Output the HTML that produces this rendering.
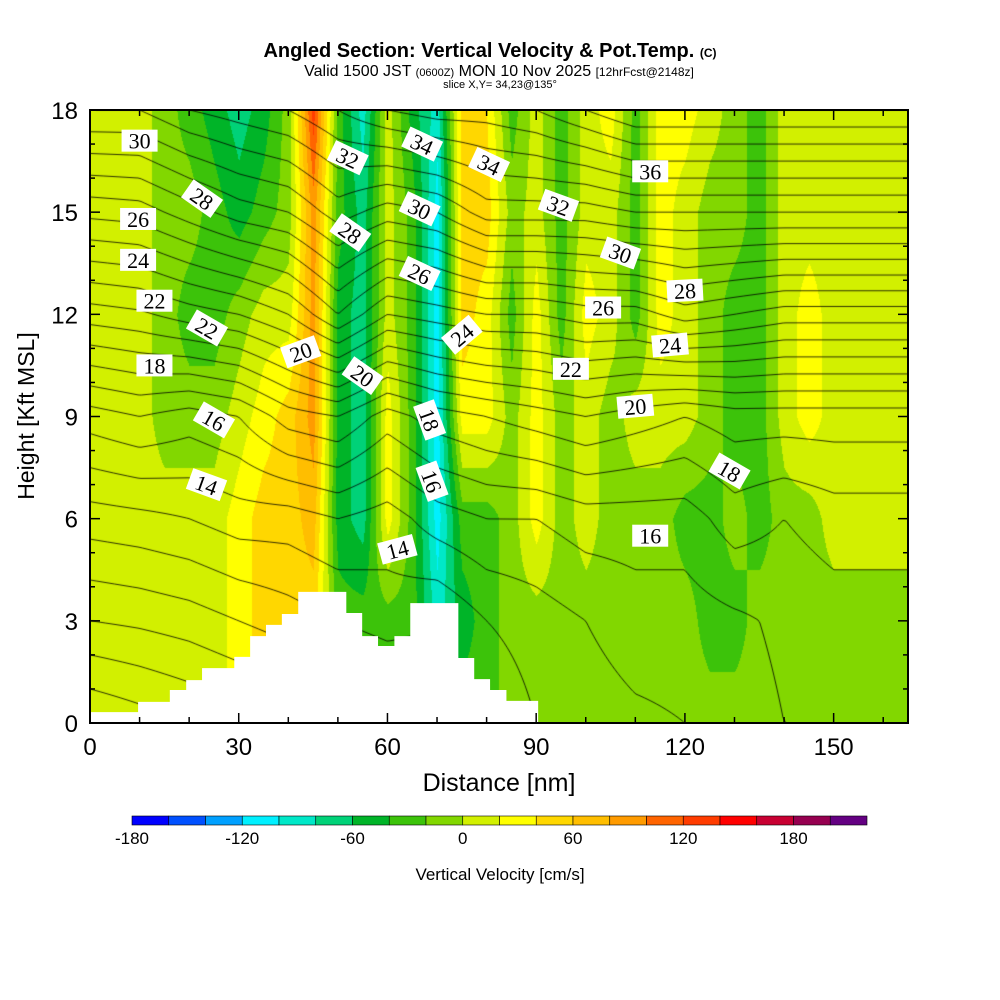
<!DOCTYPE html>
<html><head><meta charset="utf-8"><style>
body{margin:0;background:#fff;width:1000px;height:1000px;overflow:hidden;position:relative;font-family:"Liberation Sans",sans-serif}
#cv{position:absolute;left:90px;top:110px}
#ov{position:absolute;left:0;top:0}
</style></head><body>
<canvas id="cv" width="818" height="613"></canvas>
<svg id="ov" width="1000" height="1000"></svg>
<script>
// ---- data ----
const velX = [0,5,10,15,20,25,30,35,40,45,50,55,60,65,70,75,80,85,90,95,100,105,110,115,120,125,130,135,140,145,150,155,160,165];
const velH = [0,3,6,9,12,15,18];
const vel0  = [10,10,10,10,10,10,30,50,50,50,-30,-30,-30,-30,-70,-30,-30,-10,-10,-10,-10,-10,-10,-10,-10,-10,-10,-10,-10,-10,-10,-10,-10,-10];
const vel3  = [10,10,10,10,10,10,30,50,50,50,-30,-30,-30,-30,-90,-50,-30,-10,-10,-10,-10,-10,-10,-10,-10,-30,-30,-10,-10,-10,-10,-10,-10,-10];
const vel6  = [10,10,10,10,10,10,30,50,50,70,-50,-70,30,-30,-110,-30,-30,-10,30,-10,10,-10,-10,-10,-30,-30,-10,-30,-10,-10,10,10,10,10];
const vel9  = [10,10,10,-10,-10,-10,10,30,50,90,-50,-70,30,-30,-110,30,30,-10,30,-10,10,-10,10,10,10,-10,-30,-30,10,30,10,10,10,10];
const vel12 = [10,10,10,-10,-30,-30,-10,10,10,90,-50,-70,10,-30,-110,50,30,-30,30,-30,30,10,-30,30,10,-10,-30,-30,10,30,10,10,10,10];
const vel15 = [10,10,10,-10,-10,-30,-50,-30,-10,90,-30,-70,10,-30,-110,50,50,-10,10,-30,10,10,-30,30,10,-10,-10,-30,10,10,10,10,10,10];
const vel18 = [10,10,10,-10,-30,-50,-70,-50,-10,130,-30,-90,10,-50,-90,50,40,-30,10,-30,10,30,-30,30,30,10,-10,-30,10,10,10,10,10,10];
const velRows = [vel0,vel3,vel6,vel9,vel12,vel15,vel18];

const thX = [0,10,20,30,40,50,60,70,80,90,100,110,120,130,140,150,160,165];
const th0  = [8,8.5,9,9.5,10,10.5,11,12,13,14,14.5,14.8,15,15.5,16,16,16.2,16.2];
const th3  = [11,11.2,11.5,12,12.5,13,13.5,13,14,14.5,15,15.5,15.5,15.8,16.2,16.5,16.5,16.5];
const th6  = [13.5,13.7,14,14.5,14.5,15,14.5,15.5,16,16,16.5,16.5,16.5,17.5,17,17.5,17.5,17.5];
const th9  = [16.5,17,16.5,17,18.5,19,17.5,18.5,19,19.5,20,19.5,19,19.5,19.5,19.5,19.5,19.5];
const th12 = [21.5,21.8,22.5,23,24,26,24,24.5,25,25,25.5,25.5,26.5,26,25.5,25.5,25.5,25.5];
const th15 = [26.3,26.5,27.5,28.5,29,30.5,29.5,30,31.5,31.5,31.5,32,32,32,32,32,32,32];
const th18 = [31,31,32,32.5,33,34,35,35.5,35.5,36,37,38,38,38,38,38,38,38];
const thRows = [th0,th3,th6,th9,th12,th15,th18];
const levels = [9,10,11,12,13,14,15,16,17,18,19,20,21,22,23,24,25,26,27,28,29,30,31,32,33,34,35,36,37,38];

const binEdges = [-180,-160,-140,-120,-100,-80,-60,-40,-20,0,20,40,60,80,100,120,140,160,180,200,220];
const binColors = ["#0000ff","#0050ff","#00a0ff","#00f0ff","#00e8c8","#00d278","#00b428","#3cc30a","#82d700","#d2f000","#ffff00","#ffd700","#ffbe00","#ff9b00","#ff6400","#ff3c00","#ff0000","#c80032","#960050","#640082"];
const cbTicks = [-180,-120,-60,0,60,120,180];

const terrainNm = [0,9.7,16.1,19.4,22.6,29.1,32.3,35.5,38.7,42,51.7,54.9,58.1,61.4,64.6,74.3,77.5,80.7,84,90.4];
const terrainH  = [0.32,0.62,0.97,1.26,1.61,1.94,2.55,2.88,3.2,3.85,3.23,2.55,2.26,2.55,3.52,1.91,1.29,0.97,0.65,0];

const lblText = ["30","28","26","24","22","22","18","16","14","20","32","28","20","34","30","26","24","18","16","14","34","32","30","26","22","20","36","28","24","18","16"];
const lblX = [10,22.6,9.7,9.7,13,23.6,13,25,23.5,42.5,52,52.5,55,67,66.5,66.5,75,68.5,69,62,80.5,94.5,107,103.5,97,110,113,120,117,129,113];
const lblH = [17.1,15.4,14.8,13.6,12.4,11.6,10.5,8.9,7.0,10.9,16.6,14.4,10.2,17.0,15.1,13.2,11.4,8.9,7.1,5.1,16.4,15.2,13.8,12.2,10.4,9.3,16.2,12.7,11.1,7.4,5.5];
const lblA = [0,35,0,0,0,30,0,30,20,-20,25,35,35,25,25,25,-40,70,70,-15,25,20,20,0,0,-5,0,-3,-5,30,0];

// ---- scales ----
const PX0=90, PY0=110, PW=818, PH=613;
function sx(nm){return PX0 + nm*PW/165;}
function sy(h){return PY0 + PH - h*PH/18;}

function interp(xs, rows, hs, nm, h){
  let i=0; while(i<xs.length-2 && nm>xs[i+1]) i++;
  let j=0; while(j<hs.length-2 && h>hs[j+1]) j++;
  const tx=Math.min(1,Math.max(0,(nm-xs[i])/(xs[i+1]-xs[i])));
  const ty=Math.min(1,Math.max(0,(h-hs[j])/(hs[j+1]-hs[j])));
  const a=rows[j][i],b=rows[j][i+1],c=rows[j+1][i],d=rows[j+1][i+1];
  return (a*(1-tx)+b*tx)*(1-ty)+(c*(1-tx)+d*tx)*ty;
}
function hex(c){return [parseInt(c.substr(1,2),16),parseInt(c.substr(3,2),16),parseInt(c.substr(5,2),16)];}
const rgb = binColors.map(hex);

// ---- fill ----
const cv=document.getElementById('cv'); const ctx=cv.getContext('2d');
const img=ctx.createImageData(PW,PH);
for(let py=0;py<PH;py++){
  const h=(PH-py)*18/PH;
  for(let px=0;px<PW;px++){
    const nm=px*165/PW;
    const v=interp(velX,velRows,velH,nm,h);
    let k=0; while(k<binColors.length-1 && v>=binEdges[k+1]) k++;
    const o=(py*PW+px)*4; const c=rgb[k];
    img.data[o]=c[0];img.data[o+1]=c[1];img.data[o+2]=c[2];img.data[o+3]=255;
  }
}
ctx.putImageData(img,0,0);

// ---- contours (marching squares) ----
const st=3, nx=Math.ceil(PW/st)+1, ny=Math.ceil(PH/st)+1;
const T=[];
for(let j=0;j<ny;j++){T.push([]);for(let i=0;i<nx;i++){
  T[j].push(interp(thX,thRows,velH,Math.min(165,i*st*165/PW),Math.max(0,(PH-j*st)*18/PH)));}}
ctx.strokeStyle="#000";ctx.lineWidth=0.8;ctx.beginPath();
for(const L of levels){
  for(let j=0;j<ny-1;j++)for(let i=0;i<nx-1;i++){
    const a=T[j][i],b=T[j][i+1],c=T[j+1][i+1],d=T[j+1][i];
    const pts=[];
    const x0=i*st,y0=j*st;
    if((a<L)!==(b<L))pts.push([x0+st*(L-a)/(b-a),y0]);
    if((b<L)!==(c<L))pts.push([x0+st,y0+st*(L-b)/(c-b)]);
    if((c<L)!==(d<L))pts.push([x0+st*(L-d)/(c-d),y0+st]);
    if((d<L)!==(a<L))pts.push([x0,y0+st*(L-a)/(d-a)]);
    if(pts.length>=2){ctx.moveTo(pts[0][0],pts[0][1]);ctx.lineTo(pts[1][0],pts[1][1]);}
    if(pts.length===4){ctx.moveTo(pts[2][0],pts[2][1]);ctx.lineTo(pts[3][0],pts[3][1]);}
  }
}
ctx.stroke();

// ---- SVG overlay ----
const NS="http://www.w3.org/2000/svg"; const svg=document.getElementById('ov');
function el(tag,attrs,parent){const e=document.createElementNS(NS,tag);for(const k in attrs)e.setAttribute(k,attrs[k]);(parent||svg).appendChild(e);return e;}

// terrain
let d="M"+sx(0)+","+sy(0);
for(let i=0;i<terrainNm.length;i++){
  const x1=sx(terrainNm[i]), x2=sx(i+1<terrainNm.length?terrainNm[i+1]:terrainNm[i]);
  d+=" L"+x1+","+sy(terrainH[i])+" L"+x2+","+sy(terrainH[i]);
}
d+=" L"+sx(terrainNm[terrainNm.length-1])+","+sy(0)+" Z";
const terr=el('path',{d:d,fill:"#fff"});



// contour labels
for(let i=0;i<lblText.length;i++){
  const g=el('g',{transform:`translate(${sx(lblX[i])},${sy(lblH[i])}) rotate(${lblA[i]})`});
  
  
  el('rect',{x:-18,y:-11,width:36,height:22,fill:"#fff"},g);
  const t=el('text',{x:0,y:8,"text-anchor":"middle","font-family":"Liberation Serif,serif","font-size":"22",fill:"#000"},g);
  t.textContent=lblText[i];
}

// frame & ticks
const fr=el('rect',{x:PX0,y:PY0,width:PW,height:PH,fill:"none",stroke:"#000","stroke-width":2});


for(let v=0;v<=165;v+=10){
  const x=sx(v), L=(v%30===0)?10:6;
  el('line',{x1:x,y1:PY0+PH,x2:x,y2:PY0+PH-L,stroke:"#000","stroke-width":1.5});
  el('line',{x1:x,y1:PY0,x2:x,y2:PY0+L,stroke:"#000","stroke-width":1.5});
  if(v%30===0){const t=el('text',{x:x,y:755,"text-anchor":"middle","font-size":"24",fill:"#000"});
    
    
    t.textContent=v;}
}
for(let v=0;v<=18;v+=1){
  const y=sy(v), L=(v%3===0)?10:5;
  el('line',{x1:PX0,y1:y,x2:PX0+L,y2:y,stroke:"#000","stroke-width":1.5});
  el('line',{x1:PX0+PW,y1:y,x2:PX0+PW-L,y2:y,stroke:"#000","stroke-width":1.5});
  if(v%3===0){const t=el('text',{x:78,y:y+9,"text-anchor":"end","font-size":"24",fill:"#000"});
    
    
    t.textContent=v;}
}
const xt=el('text',{x:499,y:791,"text-anchor":"middle","font-size":"25",fill:"#000"});


xt.textContent="Distance [nm]";
const yt=el('text',{x:0,y:0,transform:"translate(34,416) rotate(-90)","text-anchor":"middle","font-size":"23",fill:"#000"});


yt.textContent="Height [Kft MSL]";

// titles
const t1=el('text',{x:490,y:57,"text-anchor":"middle","font-size":"20","font-weight":"bold",fill:"#000"});


t1.innerHTML='Angled Section: Vertical Velocity &amp; Pot.Temp. <tspan font-size="12">(C)</tspan>';
const t2=el('text',{x:499,y:76,"text-anchor":"middle","font-size":"16",fill:"#000"});


t2.innerHTML='Valid 1500 JST <tspan font-size="11">(0600Z)</tspan> MON 10 Nov 2025 <tspan font-size="12">[12hrFcst@2148z]</tspan>';
const t3=el('text',{x:500,y:88,"text-anchor":"middle","font-size":"11",fill:"#000"});


t3.textContent='slice X,Y= 34,23@135°';

// colorbar
const CB0=132, CB1=867, cbw=(CB1-CB0)/binColors.length;
for(let k=0;k<binColors.length;k++){
  const r=el('rect',{x:CB0+k*cbw,y:816,width:cbw,height:9,fill:binColors[k],stroke:"#000","stroke-width":0.6});
  
  
}
for(const v of cbTicks){
  const x=CB0+(v-binEdges[0])/(binEdges[binEdges.length-1]-binEdges[0])*(CB1-CB0);
  const t=el('text',{x:x,y:844,"text-anchor":"middle","font-size":"17",fill:"#000"});
  
  
  t.textContent=v;
}
const cbt=el('text',{x:500,y:880,"text-anchor":"middle","font-size":"17",fill:"#000"});


cbt.textContent="Vertical Velocity [cm/s]";
</script>
</body></html>
